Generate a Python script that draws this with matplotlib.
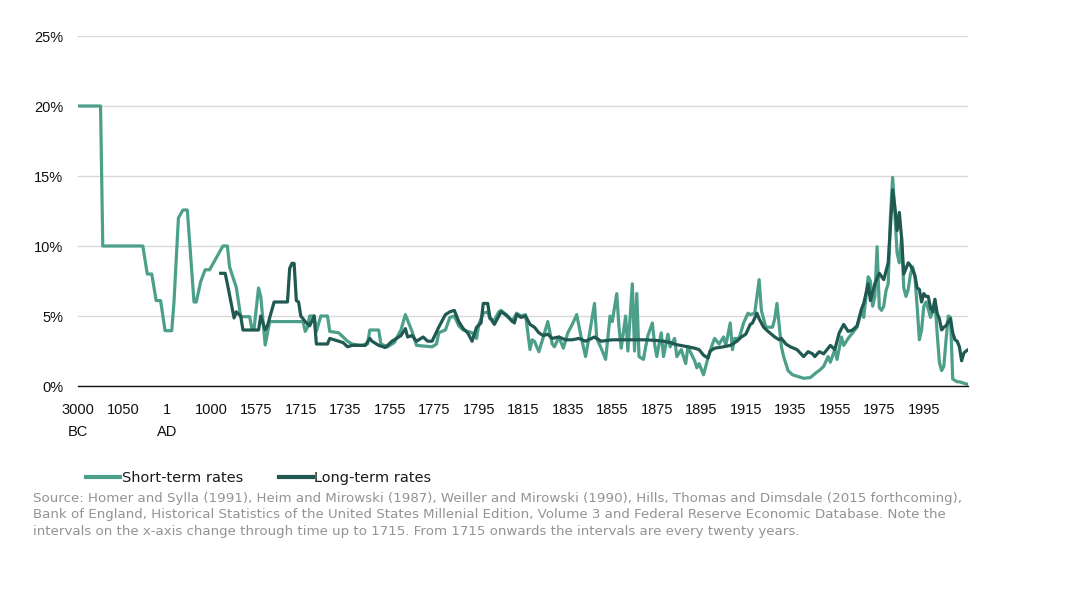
import matplotlib
matplotlib.use("Agg")
import matplotlib.pyplot as plt
from matplotlib.lines import Line2D
import numpy as np

# ---- categories / tick labels ----
tick_labels = ["3000\nBC", "1050", "1\nAD", "1000", "1575", "1715", "1735", "1755", "1775",
               "1795", "1815", "1835", "1855", "1875", "1895", "1915", "1935", "1955",
               "1975", "1995"]
first_annual_year = 1715   # category 100
first_annual_cat = 100
n_categories = 401

# ---- before 1715: irregular categories (category index, value %) ----
st_pre_cat = [0, 10, 11, 29, 31, 33, 35, 37, 39, 42, 43, 45, 47, 49, 52, 53, 55, 57, 59,
              65, 67, 68, 71, 73, 77, 78, 79, 81, 82, 84, 86]
st_pre_val = [20, 20, 10, 10, 8.0, 8.0, 6.1, 6.1, 3.95, 3.95, 6.0, 12.0, 12.57, 12.57, 6.0,
              6.0, 7.45, 8.3, 8.3, 10.0, 10.0, 8.5, 7.05, 4.95, 4.95, 4.1, 4.1, 7.0, 6.4,
              2.93, 4.6]
lt_pre_cat = [64, 66, 67, 70, 71, 73, 74, 81, 82, 84, 85, 88, 94, 95, 96, 97, 98, 99]
lt_pre_val = [8.05, 8.05, 7.3, 4.86, 5.3, 5.0, 4.0, 4.0, 5.0, 4.0, 4.3, 6.0, 6.0, 8.4, 8.76,
              8.76, 6.1, 6.0]

# ---- from 1715: annual categories (year, value %) ----
st_years = [1715, 1716, 1717, 1718, 1719, 1721, 1722, 1724, 1727, 1728, 1732, 1734, 1736, 1738,
            1742, 1745, 1746, 1750, 1751, 1754, 1757, 1760, 1762, 1763, 1765, 1767, 1774, 1776,
            1777, 1780, 1782, 1784, 1786, 1788, 1792, 1794, 1795, 1797, 1799, 1800, 1802, 1804,
            1805, 1808, 1810, 1812, 1814, 1816, 1818, 1819, 1820, 1822, 1824, 1826, 1828, 1829,
            1831, 1833, 1835, 1837, 1839, 1841, 1843, 1844, 1847, 1848, 1850, 1852, 1854, 1855,
            1857, 1858, 1859, 1861, 1862, 1864, 1865, 1866, 1867, 1869, 1870, 1871, 1873, 1874,
            1875, 1877, 1878, 1880, 1881, 1883, 1884, 1886, 1888, 1889, 1892, 1893, 1894, 1896,
            1898, 1900, 1901, 1903, 1905, 1906, 1908, 1909, 1910, 1912, 1914, 1916, 1917, 1919,
            1921, 1922, 1924, 1927, 1928, 1929, 1931, 1932, 1934, 1936, 1938, 1941, 1944, 1947,
            1948, 1950, 1952, 1953, 1955, 1956, 1958, 1959, 1961, 1963, 1965, 1967, 1968, 1970,
            1971, 1972, 1973, 1974, 1975, 1976, 1977, 1978, 1979, 1980, 1981, 1982, 1983, 1984,
            1985, 1986, 1987, 1988, 1989, 1990, 1991, 1992, 1993, 1994, 1995, 1996, 1997, 1998,
            1999, 2000, 2001, 2002, 2003, 2004, 2005, 2006, 2007, 2008, 2009, 2010, 2011, 2012,
            2013, 2014, 2015]
st_vals = [4.6, 4.6, 3.9, 4.2, 5.0, 5.0, 3.9, 5.0, 5.0, 3.9, 3.8, 3.5, 3.2, 3.0,
           2.9, 3.0, 4.0, 4.0, 3.0, 2.8, 3.1, 4.0, 5.1, 4.7, 3.9, 2.9, 2.8, 3.0,
           3.8, 4.0, 4.9, 5.0, 4.3, 4.0, 3.8, 3.4, 4.4, 5.2, 5.3, 4.8, 4.7, 5.3,
           5.4, 5.0, 4.6, 5.2, 5.0, 5.1, 2.6, 3.3, 3.2, 2.45, 3.5, 4.6, 3.0, 2.8,
           3.5, 2.7, 3.8, 4.4, 5.1, 3.5, 2.1, 3.0, 5.9, 3.4, 2.7, 1.9, 5.0, 4.6,
           6.6, 4.2, 2.7, 5.0, 2.5, 7.3, 2.5, 6.6, 2.1, 1.9, 2.8, 3.6, 4.5, 3.0,
           2.1, 3.8, 2.1, 3.7, 2.8, 3.4, 2.1, 2.6, 1.6, 2.8, 1.8, 1.3, 1.6, 0.8,
           2.0, 3.0, 3.4, 3.0, 3.5, 2.9, 4.5, 2.6, 3.4, 3.4, 4.5, 5.2, 5.1, 5.2,
           7.6, 5.4, 4.2, 4.2, 4.8, 5.9, 2.8, 2.1, 1.1, 0.8, 0.7, 0.55, 0.6, 1.0,
           1.1, 1.4, 2.1, 1.7, 2.6, 1.9, 3.5, 2.9, 3.4, 3.8, 4.2, 5.4, 4.9, 7.8,
           7.5, 5.7, 6.4, 9.95, 5.6, 5.4, 5.7, 6.8, 7.3, 12.1, 14.9, 12.3, 9.5, 8.8,
           10.6, 7.0, 6.4, 6.9, 8.0, 8.5, 7.8, 5.7, 3.3, 4.0, 5.7, 6.0, 5.5, 4.9,
           5.3, 6.1, 3.8, 1.7, 1.1, 1.4, 3.3, 5.0, 4.9, 0.5, 0.4, 0.3, 0.3, 0.25,
           0.2, 0.15, 0.1]

lt_years = [1715, 1717, 1719, 1721, 1722, 1727, 1728, 1730, 1732, 1734, 1736, 1738, 1744, 1746,
            1747, 1750, 1753, 1756, 1758, 1760, 1762, 1763, 1765, 1767, 1770, 1772, 1774, 1777,
            1780, 1782, 1784, 1786, 1788, 1790, 1792, 1794, 1796, 1797, 1799, 1800, 1802, 1804,
            1805, 1807, 1809, 1811, 1812, 1814, 1816, 1818, 1820, 1822, 1824, 1826, 1828, 1831,
            1834, 1837, 1840, 1843, 1847, 1850, 1855, 1860, 1865, 1870, 1875, 1878, 1881, 1884,
            1889, 1892, 1894, 1896, 1898, 1899, 1901, 1905, 1908, 1911, 1913, 1915, 1917, 1918,
            1920, 1921, 1923, 1925, 1928, 1930, 1931, 1933, 1935, 1938, 1941, 1943, 1945, 1946,
            1948, 1950, 1953, 1955, 1957, 1959, 1961, 1963, 1965, 1967, 1968, 1970, 1971, 1973,
            1975, 1977, 1979, 1980, 1981, 1982, 1983, 1984, 1985, 1986, 1987, 1988, 1989, 1990,
            1991, 1992, 1993, 1994, 1995, 1996, 1997, 1998, 1999, 2000, 2001, 2002, 2003, 2004,
            2005, 2006, 2007, 2008, 2009, 2010, 2011, 2012, 2013, 2014, 2015]
lt_vals = [5.0, 4.6, 4.3, 5.0, 3.0, 3.0, 3.4, 3.3, 3.2, 3.1, 2.8, 2.9, 2.9, 3.4,
           3.2, 2.9, 2.75, 3.2, 3.4, 3.6, 4.1, 3.5, 3.6, 3.2, 3.5, 3.2, 3.2, 4.2,
           5.1, 5.3, 5.4, 4.6, 4.1, 3.8, 3.2, 4.2, 4.5, 5.9, 5.9, 4.9, 4.4, 5.0,
           5.3, 5.1, 4.8, 4.5, 5.1, 4.9, 5.0, 4.4, 4.2, 3.8, 3.6, 3.7, 3.4, 3.5,
           3.3, 3.3, 3.4, 3.2, 3.5, 3.2, 3.3, 3.3, 3.3, 3.3, 3.25, 3.2, 3.1, 2.95,
           2.8, 2.7, 2.6, 2.2, 2.0, 2.5, 2.7, 2.8, 2.9, 3.2, 3.5, 3.7, 4.4, 4.5,
           5.2, 4.8, 4.2, 3.9, 3.5, 3.3, 3.4, 3.0, 2.8, 2.6, 2.1, 2.45, 2.3, 2.1,
           2.45, 2.3, 2.9, 2.6, 3.8, 4.4, 3.9, 4.0, 4.3, 5.5, 5.9, 7.3, 6.1, 7.3,
           8.05, 7.6, 8.8, 11.4, 14.0, 12.8, 11.1, 12.4, 10.6, 8.0, 8.4, 8.8, 8.6, 8.3,
           7.9, 7.0, 6.9, 6.0, 6.6, 6.4, 6.4, 5.6, 5.3, 6.2, 5.2, 4.8, 4.0, 4.2,
           4.3, 4.6, 4.8, 3.8, 3.3, 3.2, 2.8, 1.8, 2.35, 2.5, 2.6]

series_names = ["Short-term rates", "Long-term rates"]
source_lines = [
    "Source: Homer and Sylla (1991), Heim and Mirowski (1987), Weiller and Mirowski (1990), Hills, Thomas and Dimsdale (2015 forthcoming),",
    "Bank of England, Historical Statistics of the United States Millenial Edition, Volume 3 and Federal Reserve Economic Database. Note the",
    "intervals on the x-axis change through time up to 1715. From 1715 onwards the intervals are every twenty years.",
]

# ---- build positions ----
def cat_of_year(years):
    return [first_annual_cat + (y - first_annual_year) for y in years]

st_x = st_pre_cat + cat_of_year(st_years)
st_y = st_pre_val + st_vals
lt_x = lt_pre_cat + cat_of_year(lt_years)
lt_y = lt_pre_val + lt_vals

ST_COLOR = "#4C9F89"
LT_COLOR = "#1F5952"
NOTE_FONT = ['DejaVu Sans']

plt.rcParams['font.family'] = ['Liberation Sans', 'DejaVu Sans']

fig = plt.figure(figsize=(10.9, 5.96), dpi=100)
ax = fig.add_axes([78.3 / 1090, 1 - 386 / 596, 890 / 1090, 350 / 596])

ax.plot(st_x, st_y, color=ST_COLOR, lw=2.3, solid_joinstyle='round', zorder=3)
ax.plot(lt_x, lt_y, color=LT_COLOR, lw=2.3, solid_joinstyle='round', zorder=4)

ax.set_xlim(0, n_categories - 1)
ax.set_ylim(0, 25)
ax.set_yticks(np.arange(0, 26, 5))
ax.set_yticklabels([f"{v}%" for v in range(0, 26, 5)])
ax.set_xticks(np.arange(0, 20 * len(tick_labels), 20))
ax.set_xticklabels(tick_labels, linespacing=1.75)

ax.tick_params(axis='both', length=0, labelsize=10.5, labelcolor="#111111")
ax.tick_params(axis='y', pad=11)
ax.tick_params(axis='x', pad=12)
ax.grid(axis='y', color="#D9D9D9", lw=1)
ax.set_axisbelow(True)
for s in ["top", "right", "left"]:
    ax.spines[s].set_visible(False)
ax.spines["bottom"].set_color("#111111")
ax.spines["bottom"].set_linewidth(1.0)
ax.spines["bottom"].set_zorder(5)

renderer = fig.canvas.get_renderer()

def fit_size(text, target_px, base=10.0):
    t = fig.text(0, 0, text, fontsize=base, family=NOTE_FONT)
    w = t.get_window_extent(renderer).width
    t.remove()
    return base * target_px / w

src_size = fit_size("Source: Homer and Sylla", 165)
leg_size = fit_size(series_names[0], 120)
leg_px = leg_size * 100 / 72

baselines = [501.7, 518.4, 535.1]
for line, yb in zip(source_lines, baselines):
    fig.text(33.3 / 1090, 1 - yb / 596, line, ha='left', va='baseline',
             fontsize=src_size, family=NOTE_FONT, color="#939393")

handles = [Line2D([], [], color=ST_COLOR, lw=3), Line2D([], [], color=LT_COLOR, lw=3)]
fig.legend(handles, series_names, loc='center left', bbox_to_anchor=(86 / 1090, 1 - 478 / 596),
           ncol=2, frameon=False, borderpad=0, borderaxespad=0,
           handlelength=34 / leg_px, handletextpad=1.5 / leg_px,
           columnspacing=36 / leg_px,
           prop={'family': NOTE_FONT, 'size': leg_size},
           labelcolor="#1A1A1A")

fig.savefig("out.png", dpi=100)
